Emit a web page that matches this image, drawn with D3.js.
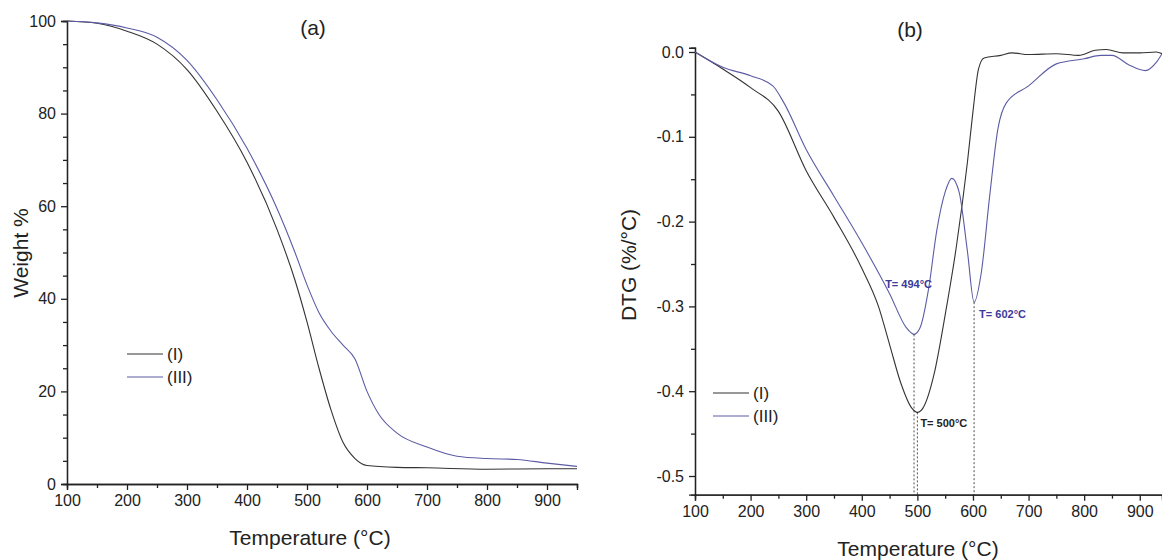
<!DOCTYPE html><html><head><meta charset="utf-8"><script src="https://cdn.jsdelivr.net/npm/d3@7"></script>
<style>body{margin:0;background:#fff}text{font-family:"Liberation Sans",Arial,sans-serif}</style></head><body><svg id="c" width="1162" height="560"></svg><script>
const tgaI_T=[100,150,200,250,300,350,400,450,480,500,520,540,560,580,600,650,700,800,900,950];
const tgaI_W=[100,99.5,97.8,95,89.5,80.5,69.5,55,44,35,25,16,9,5.5,4,3.6,3.5,3.2,3.3,3.3];
const tgaIII_T=[100,150,200,250,300,350,400,450,480,500,520,540,560,580,600,620,650,700,750,800,850,900,950];
const tgaIII_W=[100,99.6,98.5,96.5,91.5,83,72.5,59.5,50,43,37,33,30,27,20,15,11,8,6,5.5,5.3,4.5,3.8];
const dtgI_T=[100,150,200,250,300,350,400,430,450,470,490,500,510,530,550,570,590,600,610,620,650,670,700,750,790,820,840,870,900,930,940];
const dtgI_V=[0,-0.02,-0.042,-0.07,-0.14,-0.195,-0.255,-0.3,-0.345,-0.39,-0.42,-0.425,-0.42,-0.38,-0.31,-0.23,-0.13,-0.07,-0.02,-0.007,-0.004,-0.001,-0.003,-0.002,-0.004,0.002,0.003,-0.001,-0.001,0,-0.002];
const dtgIII_T=[100,150,200,240,260,300,350,400,450,480,494,505,520,535,550,562,575,590,602,615,630,645,660,700,750,800,830,850,880,910,930,940];
const dtgIII_V=[0,-0.018,-0.028,-0.04,-0.06,-0.115,-0.17,-0.225,-0.285,-0.325,-0.333,-0.325,-0.28,-0.21,-0.165,-0.149,-0.165,-0.235,-0.295,-0.26,-0.17,-0.09,-0.06,-0.04,-0.014,-0.008,-0.004,-0.004,-0.015,-0.022,-0.012,-0.002];
const xTicks=[100,200,300,400,500,600,700,800,900];
const wTicks=[0,20,40,60,80,100];
const dTicks=[0,-0.1,-0.2,-0.3,-0.4,-0.5];
const peaks=[{t:494,v:-0.333,s:"III",label:"T= 494°C"},{t:500,v:-0.425,s:"I",label:"T= 500°C"},{t:602,v:-0.295,s:"III",label:"T= 602°C"}];
const cI="#333",cIII="#5c5ca6",cLab="#3a3a9a";
const svg=d3.select("#c");
function axes(g,x,y,xt,yt,yfmt,xmin,ymin){
  const b=y.range()[0];
  g.append("g").attr("transform",`translate(0,${b})`).call(d3.axisBottom(x).tickValues(xt).tickSize(6).tickPadding(5).tickFormat(d3.format("d")));
  g.append("g").attr("transform",`translate(0,${b})`).call(d3.axisBottom(x).tickValues(xmin).tickSize(4).tickFormat(""));
  g.append("g").attr("transform",`translate(${x.range()[0]},0)`).call(d3.axisLeft(y).tickValues(yt).tickSize(6).tickPadding(5).tickFormat(yfmt));
  g.append("g").attr("transform",`translate(${x.range()[0]},0)`).call(d3.axisLeft(y).tickValues(ymin).tickSize(4).tickFormat(""));
  g.selectAll(".domain,.tick line").attr("stroke","#222").attr("stroke-width",1.3);
  g.selectAll(".tick text").style("font-size","16px").attr("fill","#222");
}
function legend(g,x0,y0){
  [["(I)",cI],["(III)",cIII]].forEach((d,i)=>{
    g.append("line").attr("x1",x0).attr("x2",x0+36).attr("y1",y0+i*23).attr("y2",y0+i*23).attr("stroke",d[1]).attr("stroke-width",1.2);
    g.append("text").attr("x",x0+40).attr("y",y0+i*23+6).attr("fill","#222").style("font-size","17px").text(d[0]);
  });
}
const xa=d3.scaleLinear().domain([100,950]).range([67,577]);
const ya=d3.scaleLinear().domain([0,100]).range([484,21]);
const ga=svg.append("g");
axes(ga,xa,ya,xTicks,wTicks,d3.format("d"),d3.range(150,951,100),d3.range(5,100,5).filter(v=>v%20));
const la=d3.line().x(d=>xa(d[0])).y(d=>ya(d[1])).curve(d3.curveMonotoneX);
ga.append("path").attr("d",la(d3.zip(tgaI_T,tgaI_W))).attr("fill","none").attr("stroke",cI).attr("stroke-width",1.1);
ga.append("path").attr("d",la(d3.zip(tgaIII_T,tgaIII_W))).attr("fill","none").attr("stroke",cIII).attr("stroke-width",1.1);
ga.append("text").attr("x",313).attr("y",35).attr("text-anchor","middle").attr("fill","#222").style("font-size","21px").text("(a)");
ga.append("text").attr("x",310).attr("y",545).attr("text-anchor","middle").attr("fill","#222").style("font-size","21px").text("Temperature (°C)");
ga.append("text").attr("transform","translate(28,253) rotate(-90)").attr("text-anchor","middle").attr("fill","#222").style("font-size","21px").text("Weight %");
legend(ga,127,354);
const xb=d3.scaleLinear().domain([100,940]).range([695,1162]);
const yb=d3.scaleLinear().domain([-0.5,0]).range([476,52]);
const yb2=d3.scaleLinear().domain([-0.522,0.005]).range([yb(-0.522),yb(0.005)]);
const gb=svg.append("g");
axes(gb,xb,yb2,xTicks,dTicks,d=>d3.format(".1f")(d).replace("−","-"),d3.range(150,941,100),[-0.05,-0.15,-0.25,-0.35,-0.45]);
const lb=d3.line().x(d=>xb(d[0])).y(d=>yb(d[1])).curve(d3.curveMonotoneX);
gb.append("path").attr("d",lb(d3.zip(dtgI_T,dtgI_V))).attr("fill","none").attr("stroke",cI).attr("stroke-width",1.1);
gb.append("path").attr("d",lb(d3.zip(dtgIII_T,dtgIII_V))).attr("fill","none").attr("stroke",cIII).attr("stroke-width",1.1);
peaks.forEach(p=>{
  gb.append("line").attr("x1",xb(p.t)).attr("x2",xb(p.t)).attr("y1",yb(p.v)).attr("y2",yb(-0.522)).attr("stroke","#222").attr("stroke-width",0.8).attr("stroke-dasharray","2,2");
});
const [p494,p500,p602]=peaks;
gb.append("text").attr("x",xb(p494.t)+18).attr("y",yb(p494.v)-46).attr("text-anchor","end").style("font-size","11px").style("font-weight","bold").attr("fill",cLab).text(p494.label);
gb.append("text").attr("x",xb(p602.t)+5).attr("y",yb(p602.v)+16).style("font-size","11px").style("font-weight","bold").attr("fill",cLab).text(p602.label);
gb.append("text").attr("x",xb(p500.t)+3).attr("y",yb(p500.v)+15).style("font-size","11px").style("font-weight","bold").attr("fill","#222").text(p500.label);
gb.append("text").attr("x",910).attr("y",37).attr("text-anchor","middle").attr("fill","#222").style("font-size","21px").text("(b)");
gb.append("text").attr("x",918).attr("y",556).attr("text-anchor","middle").attr("fill","#222").style("font-size","21px").text("Temperature (°C)");
gb.append("text").attr("transform","translate(636,265) rotate(-90)").attr("text-anchor","middle").attr("fill","#222").style("font-size","21px").text("DTG (%/°C)");
legend(gb,713,393);
</script></body></html>
